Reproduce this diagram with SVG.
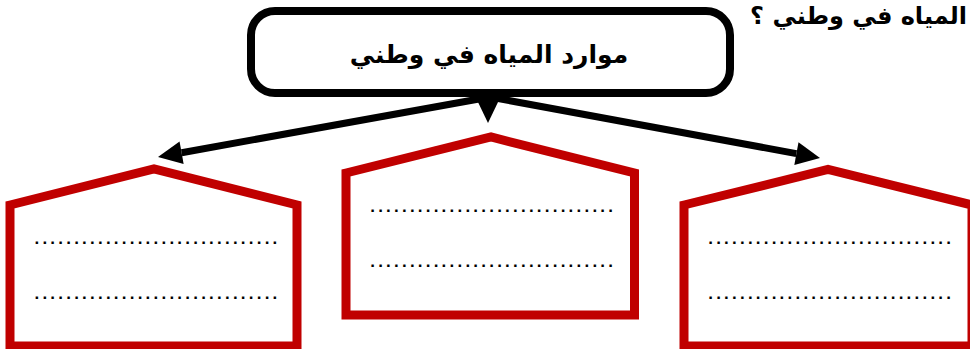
<svg xmlns="http://www.w3.org/2000/svg" width="970" height="349" viewBox="0 0 970 349">
<style>
.house{fill:#ffffff;stroke:#C00000;stroke-width:9;stroke-linejoin:miter;}
.dots{font-family:"Liberation Sans",Arial,sans-serif;font-size:17px;font-weight:bold;fill:#000000;}
.ar{font-family:"DejaVu Sans","Noto Sans",sans-serif;font-weight:bold;fill:#000000;direction:rtl;unicode-bidi:embed;}
.conn{stroke:#000000;stroke-width:7;fill:none;}
</style>
<defs>
<marker id="ah" markerUnits="userSpaceOnUse" markerWidth="24" markerHeight="23" refX="0" refY="11.5" orient="auto" overflow="visible">
<path d="M0,0 L24,11.5 L0,23 Z" fill="#000000"/>
</marker>
</defs>
<rect width="970" height="349" fill="#ffffff"/>
<g id="question">
<text class="ar" x="967" y="24" font-size="24">المياه في وطني ؟</text>
</g>
<g id="connectors">
<line class="conn" x1="490" y1="97" x2="181.6" y2="152.7" marker-end="url(#ah)"/>
<line class="conn" x1="490" y1="97" x2="796.4" y2="153.6" marker-end="url(#ah)"/>
<line class="conn" x1="488" y1="90" x2="488" y2="99" marker-end="url(#ah)"/>
</g>
<g id="node-title">
<rect x="251" y="11" width="479" height="82" rx="24" ry="24" fill="#ffffff" stroke="#000000" stroke-width="8"/>
<text class="ar" x="489" y="63" font-size="25" text-anchor="middle">موارد المياه في وطني</text>
</g>
<g id="node-left">
<polygon class="house" points="10,205 154,169 297,205 297,346 10,346"/>
<text class="dots" x="34.5" y="243.5" textLength="242.8" lengthAdjust="spacing">...............................</text>
<text class="dots" x="34.5" y="298.5" textLength="242.8" lengthAdjust="spacing">...............................</text>
</g>
<g id="node-center">
<polygon class="house" points="346,173 491,137 634.5,173 634.5,315 346,315"/>
<text class="dots" x="370.2" y="211.5" textLength="242.8" lengthAdjust="spacing">...............................</text>
<text class="dots" x="370.2" y="266.5" textLength="242.8" lengthAdjust="spacing">...............................</text>
</g>
<g id="node-right">
<polygon class="house" points="684,205 828,169.5 972,205 972,346 684,346"/>
<text class="dots" x="708.2" y="243.5" textLength="242.8" lengthAdjust="spacing">...............................</text>
<text class="dots" x="708.2" y="298.5" textLength="242.8" lengthAdjust="spacing">...............................</text>
</g>
</svg>
